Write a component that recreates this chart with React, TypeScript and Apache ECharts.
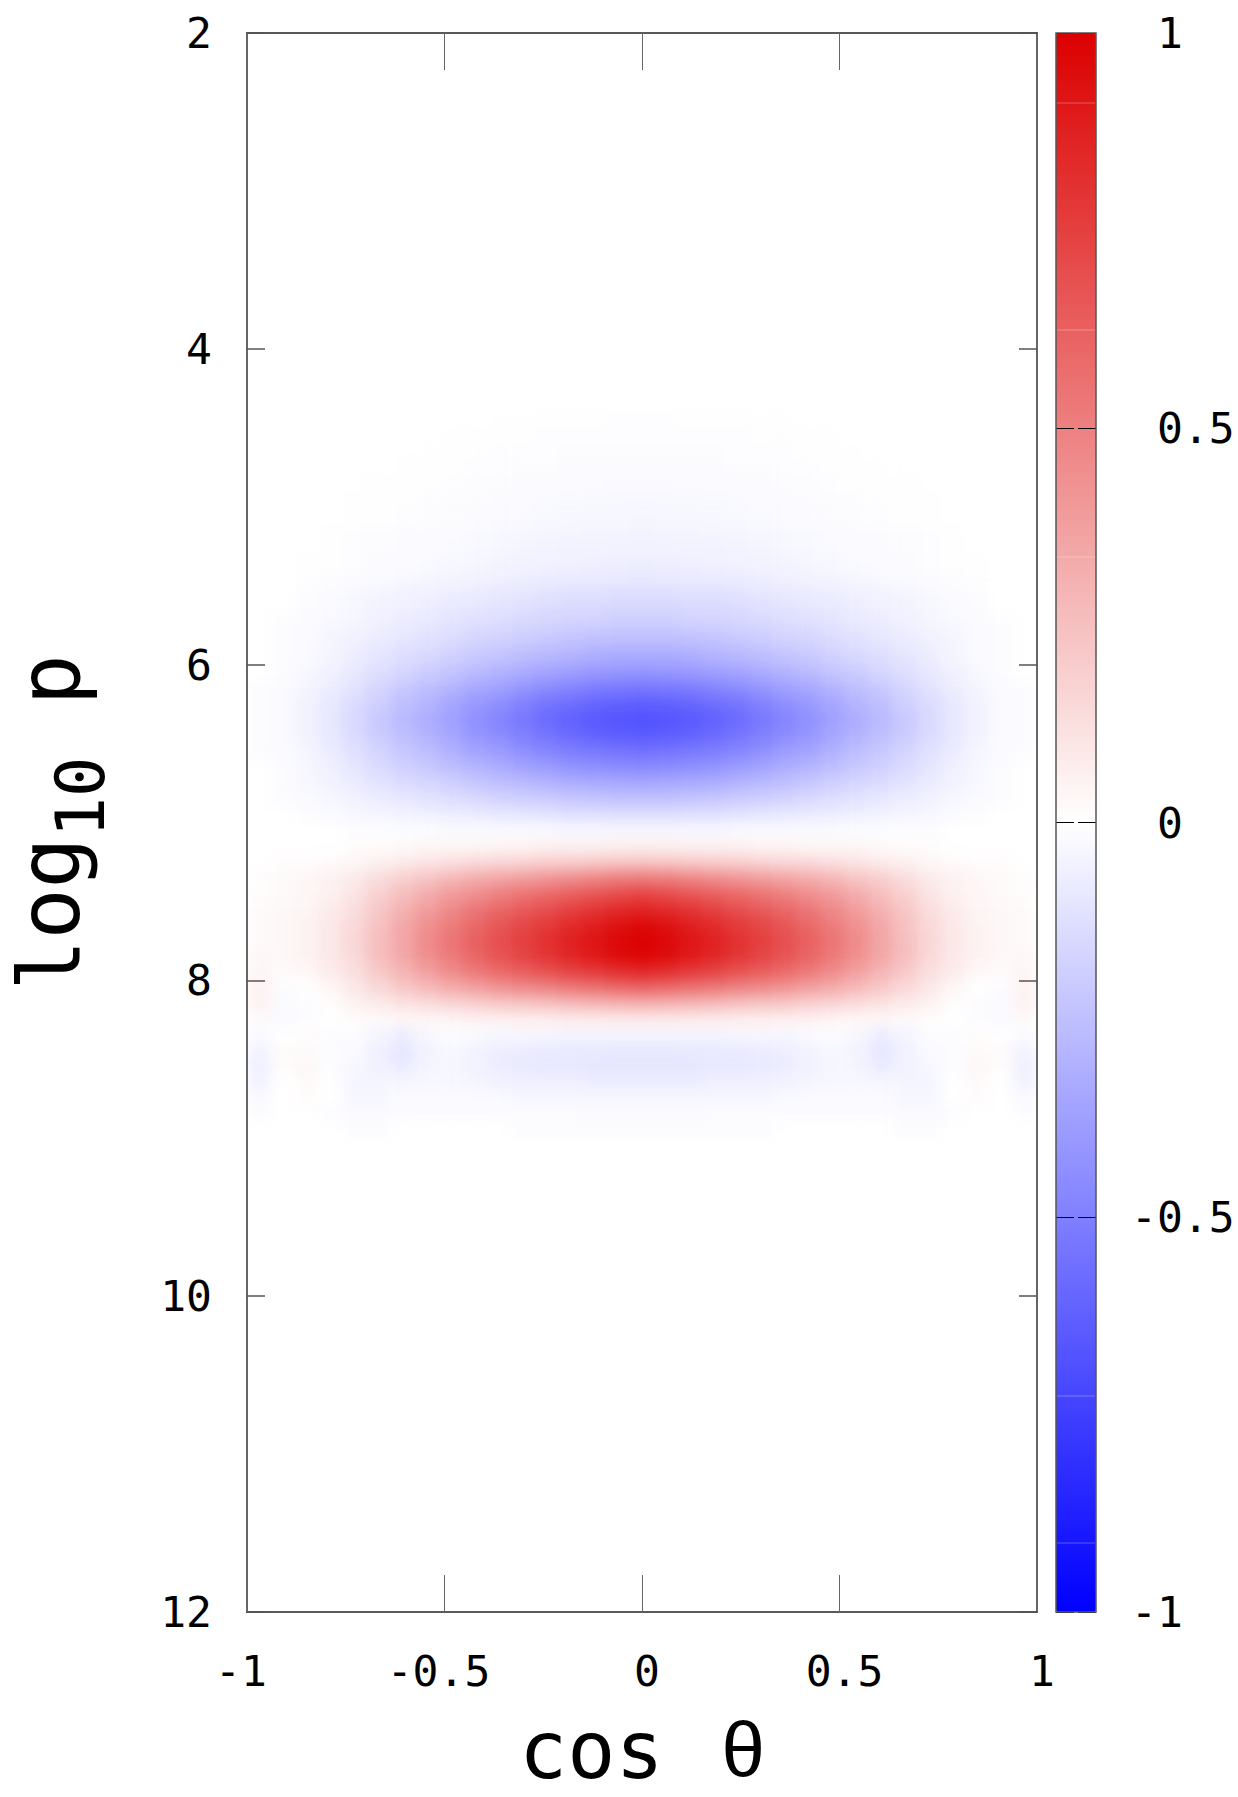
import React, { useEffect, useRef } from "react";
import * as echarts from "echarts";

const colCats = ["-0.97","-0.91","-0.85","-0.79","-0.73","-0.67","-0.61","-0.55","-0.48","-0.42","-0.36","-0.30","-0.24","-0.18","-0.12","-0.06","0","0.06","0.12","0.18","0.24","0.30","0.36","0.42","0.48","0.55","0.61","0.67","0.73","0.79","0.85","0.91","0.97"];

// values in hundredths of the colour scale, row by row of log10 p
const r445 = [0,0,0,0,0,0,0,0,0,-0.1,-0.2,-0.3,-0.4,-0.5,-0.5,-0.6,-0.6,-0.6,-0.5,-0.5,-0.4,-0.3,-0.2,-0.1,0,0,0,0,0,0,0,0,0];
const r455 = [0,0,0,0,0,0,0,-0.1,-0.2,-0.3,-0.4,-0.5,-0.6,-0.7,-0.8,-0.8,-0.8,-0.8,-0.8,-0.7,-0.6,-0.5,-0.4,-0.3,-0.2,-0.1,0,0,0,0,0,0,0];
const r465 = [0,0,0,0,0,0,-0.1,-0.2,-0.3,-0.5,-0.6,-0.8,-0.9,-1,-1.1,-1.2,-1.2,-1.2,-1.1,-1,-0.9,-0.8,-0.6,-0.5,-0.3,-0.2,-0.1,0,0,0,0,0,0];
const r475 = [0,0,0,0,0,-0.1,-0.2,-0.3,-0.5,-0.7,-0.9,-1.1,-1.3,-1.4,-1.6,-1.7,-1.7,-1.7,-1.6,-1.4,-1.3,-1.1,-0.9,-0.7,-0.5,-0.3,-0.2,-0.1,0,0,0,0,0];
const r485 = [0,0,0,0,-0.1,-0.2,-0.3,-0.5,-0.7,-1,-1.2,-1.5,-1.7,-1.9,-2.1,-2.2,-2.2,-2.2,-2.1,-1.9,-1.7,-1.5,-1.2,-1,-0.7,-0.5,-0.3,-0.2,-0.1,0,0,0,0];
const r495 = [0,0,0,-0.1,-0.2,-0.3,-0.5,-0.7,-1,-1.3,-1.6,-1.9,-2.2,-2.4,-2.6,-2.8,-2.8,-2.8,-2.6,-2.4,-2.2,-1.9,-1.6,-1.3,-1,-0.7,-0.5,-0.3,-0.2,-0.1,0,0,0];
const r505 = [0,0,0,-0.1,-0.3,-0.5,-0.7,-1,-1.3,-1.7,-2,-2.4,-2.7,-3,-3.2,-3.3,-3.4,-3.3,-3.2,-3,-2.7,-2.4,-2,-1.7,-1.3,-1,-0.7,-0.5,-0.3,-0.1,0,0,0];
const r515 = [0,0,-0.1,-0.2,-0.4,-0.7,-1,-1.3,-1.7,-2.2,-2.6,-3,-3.4,-3.7,-4,-4.1,-4.2,-4.1,-4,-3.7,-3.4,-3,-2.6,-2.2,-1.7,-1.3,-1,-0.7,-0.4,-0.2,-0.1,0,0];
const r525 = [0,0,-0.1,-0.3,-0.6,-1,-1.4,-1.8,-2.3,-2.8,-3.3,-3.8,-4.2,-4.6,-4.9,-5.1,-5.2,-5.1,-4.9,-4.6,-4.2,-3.8,-3.3,-2.8,-2.3,-1.8,-1.4,-1,-0.6,-0.3,-0.1,0,0];
const r535 = [0,-0.1,-0.2,-0.5,-0.9,-1.4,-1.9,-2.4,-3,-3.6,-4.2,-4.8,-5.3,-5.8,-6.1,-6.4,-6.5,-6.4,-6.1,-5.8,-5.3,-4.8,-4.2,-3.6,-3,-2.4,-1.9,-1.4,-0.9,-0.5,-0.2,-0.1,0];
const r545 = [0,-0.1,-0.3,-0.7,-1.2,-1.9,-2.5,-3.2,-4,-4.8,-5.6,-6.3,-7,-7.6,-8,-8.4,-8.5,-8.4,-8,-7.6,-7,-6.3,-5.6,-4.8,-4,-3.2,-2.5,-1.9,-1.2,-0.7,-0.3,-0.1,0];
const r555 = [0,0,-1,-2,-3,-4,-5,-6,-7,-8,-9,-10,-11,-12,-12,-13,-13,-13,-12,-12,-11,-10,-9,-8,-7,-6,-5,-4,-3,-2,-1,0,0];
const r565 = [0,0,-1,-2,-3,-5,-6,-7,-9,-10,-11,-12,-14,-15,-15,-16,-16,-16,-15,-15,-14,-12,-11,-10,-9,-7,-6,-5,-3,-2,-1,0,0];
const r575 = [0,-1,-2,-3,-4,-6,-8,-9,-11,-13,-14,-16,-17,-18,-19,-20,-20,-20,-19,-18,-17,-16,-14,-13,-11,-9,-8,-6,-4,-3,-2,-1,0];
const r585 = [0,-1,-2,-4,-6,-8,-10,-12,-14,-17,-18,-20,-22,-24,-25,-26,-26,-26,-25,-24,-22,-20,-18,-17,-14,-12,-10,-8,-6,-4,-2,-1,0];
const r595 = [0,-1,-2,-4,-7,-10,-13,-15,-18,-21,-23,-26,-28,-30,-32,-33,-33,-33,-32,-30,-28,-26,-23,-21,-18,-15,-13,-10,-7,-4,-2,-1,0];
const r605 = [0,-1,-3,-6,-9,-13,-16,-20,-23,-27,-30,-33,-36,-38,-40,-41,-42,-41,-40,-38,-36,-33,-30,-27,-23,-20,-16,-13,-9,-6,-3,-1,0];
const r615 = [-1,-2,-4,-7,-11,-16,-21,-25,-29,-34,-37,-41,-45,-48,-51,-52,-53,-52,-51,-48,-45,-41,-37,-34,-29,-25,-21,-16,-11,-7,-4,-2,-1];
const r625 = [-1,-2,-5,-9,-14,-19,-25,-29,-35,-40,-44,-49,-54,-57,-60,-62,-63,-62,-60,-57,-54,-49,-44,-40,-35,-29,-25,-19,-14,-9,-5,-2,-1];
const r635 = [-1,-2,-5,-9,-15,-21,-27,-32,-37,-43,-48,-53,-58,-62,-65,-67,-68,-67,-65,-62,-58,-53,-48,-43,-37,-32,-27,-21,-15,-9,-5,-2,-1];
const r645 = [-1,-2,-5,-9,-14,-20,-25,-30,-35,-41,-45,-50,-54,-58,-61,-63,-64,-63,-61,-58,-54,-50,-45,-41,-35,-30,-25,-20,-14,-9,-5,-2,-1];
const r655 = [-1,-2,-4,-8,-12,-17,-22,-26,-31,-36,-39,-44,-48,-51,-53,-55,-56,-55,-53,-51,-48,-44,-39,-36,-31,-26,-22,-17,-12,-8,-4,-2,-1];
const r665 = [0,-1,-3,-6,-10,-14,-18,-21,-25,-29,-32,-36,-39,-42,-44,-45,-46,-45,-44,-42,-39,-36,-32,-29,-25,-21,-18,-14,-10,-6,-3,-1,0];
const r675 = [0,-1,-3,-5,-8,-11,-14,-16,-19,-22,-25,-27,-30,-32,-33,-34,-35,-34,-33,-32,-30,-27,-25,-22,-19,-16,-14,-11,-8,-5,-3,-1,0];
const r685 = [0,-1,-2,-3,-5,-7,-9,-11,-13,-15,-17,-19,-20,-22,-23,-24,-24,-24,-23,-22,-20,-19,-17,-15,-13,-11,-9,-7,-5,-3,-2,-1,0];
const r695 = [0,0,-1,-2,-3,-4,-5,-6,-7,-8,-9,-10,-11,-12,-12,-13,-13,-13,-12,-12,-11,-10,-9,-8,-7,-6,-5,-4,-3,-2,-1,0,0];
const r705 = [0,0,0,0,-1,-1,-1,-1,-2,-2,-2,-2,-2,-3,-3,-3,-3,-3,-3,-3,-2,-2,-2,-2,-2,-1,-1,-1,-1,0,0,0,0];
const r715 = [0,0,0,0,1,1,2,3,3,3,4,4,5,5,5,6,6,6,5,5,5,4,4,3,3,3,2,1,1,0,0,0,0];
const r725 = [0,1,1,2,3,6,8,10,12,14,15,16,18,19,20,21,22,21,20,19,18,16,15,14,12,10,8,6,3,2,1,1,0];
const r735 = [1,2,3,5,8,13,18,22,27,31,34,37,40,43,46,49,50,49,46,43,40,37,34,31,27,22,18,13,8,5,3,2,1];
const r745 = [1,2,4,6,11,18,25,32,39,44,49,54,58,62,66,70,72,70,66,62,58,54,49,44,39,32,25,18,11,6,4,2,1];
const r755 = [2,3,4,8,13,22,30,38,46,53,59,64,69,74,79,83,86,83,79,74,69,64,59,53,46,38,30,22,13,8,4,3,2];
const r765 = [2,3,5,9,15,24,34,43,51,59,66,72,77,83,88,93,96,93,88,83,77,72,66,59,51,43,34,24,15,9,5,3,2];
const r775 = [2,3,5,9,16,25,35,45,54,62,69,75,81,87,92,97,100,97,92,87,81,75,69,62,54,45,35,25,16,9,5,3,2];
const r785 = [3,3,5,9,15,25,34,44,52,60,67,73,79,85,90,95,98,95,90,85,79,73,67,60,52,44,34,25,15,9,5,3,3];
const r795 = [4,2,3,8,13,21,29,37,45,52,58,63,68,73,77,81,84,81,77,73,68,63,58,52,45,37,29,21,13,8,3,2,4];
const r805 = [5,-1,0,3,9,15,21,27,32,37,41,45,48,52,55,58,60,58,55,52,48,45,41,37,32,27,21,15,9,3,0,-1,5];
const r815 = [5,-2,-1,1,5,8,11,13,16,18,21,22,24,26,28,29,30,29,28,26,24,22,21,18,16,13,11,8,5,1,-1,-2,5];
const r825 = [2,-2,-1,0,1,2,3,3,4,5,5,6,6,7,7,8,8,8,7,7,6,6,5,5,4,3,3,2,1,0,-1,-2,2];
const r835 = [-2,0,1,-1,-1,-4,-7,-3,-1,-2,-3,-3,-3,-4,-4,-4,-4,-4,-4,-4,-3,-3,-3,-2,-1,-3,-7,-4,-1,-1,1,0,-2];
const r845 = [-5,2,2,-1,-2,-6,-10,-5,-3,-5,-7,-8,-9,-9,-9,-10,-10,-10,-9,-9,-9,-8,-7,-5,-3,-5,-10,-6,-2,-1,2,2,-5];
const r855 = [-6,1,3,-1,-3,-5,-8,-4,-3,-5,-7,-8,-9,-9,-10,-10,-10,-10,-10,-9,-9,-8,-7,-5,-3,-4,-8,-5,-3,-1,3,1,-6];
const r865 = [-5,0,2,0,-4,-4,-3,-3,-3,-4,-5,-6,-6,-6,-7,-7,-7,-7,-7,-6,-6,-6,-5,-4,-3,-3,-3,-4,-4,0,2,0,-5];
const r875 = [-2,0,1,0,-3,-3,-2,-2,-2,-2,-2,-3,-3,-3,-3,-3,-3,-3,-3,-3,-3,-3,-2,-2,-2,-2,-2,-3,-3,0,1,0,-2];
const r885 = [-1,0,0,-1,-2,-2,-1,-1,-1,-1,-1,-1,-1,-1,-2,-2,-2,-2,-2,-1,-1,-1,-1,-1,-1,-1,-1,-2,-2,-1,0,0,-1];
const r895 = [0,0,0,0,-1,-1,0,0,0,0,0,-1,-1,-1,-1,-1,-1,-1,-1,-1,-1,-1,0,0,0,0,0,-1,-1,0,0,0,0];

const rowKeys = ["4.45","4.55","4.65","4.75","4.85","4.95","5.05","5.15","5.25","5.35","5.45","5.55","5.65","5.75","5.85","5.95","6.05","6.15","6.25","6.35","6.45","6.55","6.65","6.75","6.85","6.95","7.05","7.15","7.25","7.35","7.45","7.55","7.65","7.75","7.85","7.95","8.05","8.15","8.25","8.35","8.45","8.55","8.65","8.75","8.85","8.95"];
const rowValues = [r445,r455,r465,r475,r485,r495,r505,r515,r525,r535,r545,r555,r565,r575,r585,r595,r605,r615,r625,r635,r645,r655,r665,r675,r685,r695,r705,r715,r725,r735,r745,r755,r765,r775,r785,r795,r805,r815,r825,r835,r845,r855,r865,r875,r885,r895];

const rowCats = Array.from({ length: 100 }, (_, i) => (2.05 + i * 0.1).toFixed(2));
const heatData: number[][] = [];
rowValues.forEach((row, r) => {
  const y = rowCats.indexOf(rowKeys[r]);
  row.forEach((v, c) => heatData.push([c, y, v / 100]));
});

const colors = ["#0000ff", "#ffffff", "#dc0000"];
const MONO = "'DejaVu Sans Mono', monospace";
const PLOT = { left: 247, top: 33, width: 790, height: 1579 };
const BAR = { left: 1056, top: 33, width: 40, height: 1579 };

function signedLabel(v: number) {
  return v < 0 ? `{n|${v}}` : `{p|${v}}`;
}

export default function App() {
  const heatRef = useRef<HTMLDivElement>(null);
  const mainRef = useRef<HTMLDivElement>(null);

  useEffect(() => {
    const heat = echarts.init(heatRef.current!, undefined, { renderer: "svg" });
    heat.setOption({
      animation: false,
      grid: { left: 0, top: 0, right: 0, bottom: 0, outerBoundsMode: "none" },
      xAxis: { type: "category", data: colCats, show: false },
      yAxis: { type: "category", data: rowCats, inverse: true, show: false },
      visualMap: { show: false, type: "continuous", min: -1, max: 1, inRange: { color: colors } },
      series: [{ type: "heatmap", data: heatData, silent: true }],
    });

    const main = echarts.init(mainRef.current!, undefined, { renderer: "svg" });
    const labelStyle = { color: "#000", fontFamily: MONO, fontSize: 43 };
    const frame = { show: true, onZero: false, lineStyle: { color: "#666", width: 2 } };
    const dark = { show: true, onZero: false, lineStyle: { color: "#222", width: 1.5 } };
    main.setOption({
      animation: false,
      backgroundColor: "transparent",
      grid: [
        { ...PLOT, outerBoundsMode: "none" },
        { ...BAR, outerBoundsMode: "none" },
      ],
      xAxis: [
        {
          type: "value", gridIndex: 0, position: "bottom", min: -1, max: 1, interval: 0.5,
          axisLine: dark, splitLine: { show: false },
          axisTick: { inside: true, length: 37, lineStyle: { color: "#666", width: 1 } },
          axisLabel: {
            ...labelStyle, margin: 37, formatter: signedLabel,
            rich: {
              p: { ...labelStyle, padding: [0, 0, 0, 10] },
              n: { ...labelStyle, padding: [0, 12, 0, 0] },
            },
          },
          name: "{a|cos}{t|θ}",
          nameLocation: "center",
          nameGap: 101,
          nameTextStyle: {
            rich: {
              a: { fontFamily: MONO, fontSize: 80, color: "#000", lineHeight: 74 },
              t: { fontFamily: "'Liberation Sans', sans-serif", fontSize: 78, color: "#000", lineHeight: 74, padding: [0, 0, 0, 58] },
            },
          },
        },
        {
          type: "value", gridIndex: 0, position: "top", min: -1, max: 1, interval: 0.5,
          axisLine: dark, splitLine: { show: false }, axisLabel: { show: false },
          axisTick: { inside: true, length: 37, lineStyle: { color: "#666", width: 1 } },
        },
        { type: "value", gridIndex: 1, min: 0, max: 1, show: false },
      ],
      yAxis: [
        {
          type: "value", gridIndex: 0, position: "left", min: 2, max: 12, interval: 2, inverse: true,
          axisLine: frame, splitLine: { show: false },
          axisTick: { inside: true, length: 18, lineStyle: { color: "#555", width: 1.5 } },
          axisLabel: { ...labelStyle, margin: 35 },
          name: "{a|log}{s|10}{a| p}",
          nameLocation: "center",
          nameRotate: 90,
          nameGap: 148,
          nameTextStyle: {
            rich: {
              a: { fontFamily: MONO, fontSize: 85, color: "#000", lineHeight: 100 },
              s: { fontFamily: MONO, fontSize: 67, color: "#000", verticalAlign: "bottom", lineHeight: 60, padding: [0, 0, -15, 0] },
            },
          },
        },
        {
          type: "value", gridIndex: 0, position: "right", min: 2, max: 12, interval: 2, inverse: true,
          axisLine: frame, splitLine: { show: false }, axisLabel: { show: false },
          axisTick: { inside: true, length: 18, lineStyle: { color: "#555", width: 1.5 } },
        },
        {
          type: "value", gridIndex: 1, position: "right", min: -1, max: 1, interval: 0.5, z: 10,
          axisLine: { show: false }, axisTick: { show: false },
          splitLine: { show: true, lineStyle: { color: "#000", width: 1, type: [18, 4] } },
          axisLabel: {
            ...labelStyle, margin: 35, align: "left",
            formatter: (v: number) => (v < 0 ? `{n|${v}}` : `{p|${v}}`),
            rich: { p: { ...labelStyle, padding: [0, 0, 0, 26] }, n: { ...labelStyle } },
          },
        },
      ],
      visualMap: {
        type: "continuous", min: -1, max: 1, seriesIndex: [], calculable: false, showLabel: false,
        left: BAR.left, top: BAR.top, itemWidth: BAR.width, itemHeight: BAR.height, padding: 0,
        text: [], inRange: { color: colors },
      },
      graphic: [
        { type: "rect", z: 20, shape: { x: BAR.left, y: BAR.top, width: BAR.width, height: BAR.height }, style: { fill: "none", stroke: "#555", lineWidth: 1.5 } },
        ...[103, 330, 557, 1396, 1543].map((y) => ({
          type: "line", z: 20, shape: { x1: BAR.left + 1, y1: y, x2: BAR.left + BAR.width - 1, y2: y },
          style: { stroke: "rgba(255,255,255,0.3)", lineWidth: 1 },
        })),
      ],
      series: [],
    });

    return () => {
      heat.dispose();
      main.dispose();
    };
  }, []);

  return (
    <div style={{ position: "absolute", left: 0, top: 0, width: 1238, height: 1797, background: "#fff", overflow: "hidden" }}>
      <div style={{ position: "absolute", left: PLOT.left, top: PLOT.top, width: PLOT.width, height: PLOT.height, overflow: "hidden" }}>
        <div ref={heatRef} style={{ width: PLOT.width, height: PLOT.height, filter: "blur(7px)" }} />
      </div>
      <div ref={mainRef} style={{ position: "absolute", left: 0, top: 0, width: 1238, height: 1797 }} />
    </div>
  );
}
